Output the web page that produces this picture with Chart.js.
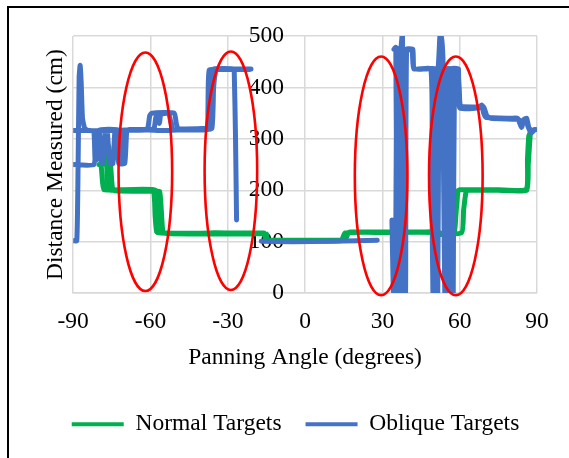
<!DOCTYPE html>
<html>
<head>
<meta charset="utf-8">
<script src="https://cdn.jsdelivr.net/npm/chart.js@4.4.1/dist/chart.umd.min.js"></script>
<style>
  html, body { margin: 0; padding: 0; background: #fff; overflow: hidden; }
  #frame { position: absolute; left: 7px; top: 6px; width: 640px; height: 520px; border: 2px solid #000; }
  #chart { position: absolute; left: 0; top: 0; }
</style>
</head>
<body>
<div id="frame"></div>
<canvas id="chart" width="569" height="458"></canvas>
<script>
// tick values
const angleTicks = [-90, -60, -30, 0, 30, 60, 90];
const distanceTicks = [0, 100, 200, 300, 400, 500];

// normal targets, several sweeps split by null
const normalAngles = [
  -80, -79.2, -78.6, -78, -70, -62, -58.8, -58.2, -57.6, -56, -45, -35, -25, -16, -15.2, 0, 15.5, 16.8, 17.5, 30, 45, 51.5, 53, 57.8, 58.5, 59.3, 60, 75, 85.8, 86.3, 86.8, 87.3,
  null,
  -79, -77.5, -76.8, -76.2, -75.5, -74.8, -74, -60, -56.5, -55.8, -55.2, -54, -40, -20, -15, -14.5, 0, 14, 15.5, 30, 50.5, 52, 60.8, 61.5, 62.5, 63.5, 75, 86, 86.6, 87.5,
  null,
  -77, -76.5, -75.5, -58, -57, -56, -30, -16
];
const normalDistances = [
  250, 249, 215, 201, 201, 200, 199, 150, 119, 117, 116, 117, 116, 116, 104, 103, 104, 118, 119, 119, 119, 119, 116, 117, 150, 199, 201, 201, 202, 260, 305, 312,
  null,
  252, 251, 280, 285, 250, 205, 199, 198, 198, 160, 119, 116, 115, 115, 115, 102, 102, 102, 117, 118, 118, 114, 118, 160, 198, 200, 200, 200, 250, 318,
  null,
  248, 205, 200, 200, 140, 118, 117, 117
];

// oblique targets, several sweeps split by null
const obliqueAngles = [
  -90, -88.6, -88.1, -87.7, -87.3, -86.9, -86.4, -85.5, -84, -75, -70, -62, -61, -60.3, -59.5, -50.8, -50, -49.3, -40, -37.6, -37, -36.4, -35.5, -28, -27.5, -27, -26.6,
  null,
  -90, -82, -81.2, -80.6, -79.8, -79, -78.3, -77.5, -76.8, -75.8, -74.6, -73.8, -73, -72.3, -70, -69.2, -68, -60, -58.6, -58, -57.4, -56.5, -56, -53, -52, -51.3, -40, -36.2, -35.5, -34.5, -33.5, -21,
  null,
  -90, -84, -82, -81.5, -80.8, -80.2, -72, -71, -70.4, -69.6, -55, -45, -38.2, -37.7, -37.2, -33, -23, -21.5,
  null,
  -17, -5, 10, 20, 28,
  null,
  33.7, 34, 34.3, 35, 35.4, 35.8, 36.5, 37, 38.5, 39.2, 41.5, 42.2, 48.8, 49.2, 49.6, 50, 50.5, 51.6, 52.4, 53.3, 53.8, 54.2, 54.8, 55.5, 56.2, 56.8, 59.2, 59.8, 60.4, 66, 67.5, 68.5, 69.5, 70.5, 72, 82, 83.5, 84.8, 85.8, 86.5, 87.5, 89.5,
  null,
  34.5, 35.2, 35.8, 36.6, 37.2, 37.8, 38.4, 39, 39.4, 41.8, 42.3, 47, 50.2, 50.8, 51.5, 52, 53, 53.6, 54.6, 55.2, 57, 57.5, 58, 59.5, 60, 67, 68.6, 69.3, 70, 80, 82.5, 84, 85, 86, 87, 88, 89
];
const obliqueDistances = [
  102, 102, 250, 420, 443, 410, 340, 320, 316, 316, 317, 317, 322, 345, 350, 350, 330, 320, 320, 322, 380, 430, 436, 436, 430, 300, 142,
  null,
  250, 250, 300, 316, 316, 252, 255, 316, 316, 252, 252, 316, 300, 252, 252, 316, 318, 318, 320, 340, 348, 330, 348, 349, 330, 318, 318, 320, 400, 436, 436, 436,
  null,
  316, 316, 315, 258, 260, 316, 316, 258, 258, 316, 316, 318, 318, 360, 434, 435, 435, 435,
  null,
  101, 100, 101, 102, 103,
  null,
  142, 60, 2, 2, 300, 474, 476, 474, 472, 474, 472, 436, 436, 200, 2, 2, 436, 436, 505, 436, 200, 2, 436, 436, 2, 436, 436, 400, 364, 362, 362, 366, 360, 345, 340, 338, 336, 330, 338, 324, 316, 318,
  null,
  474, 478, 2, 2, 474, 505, 2, 2, 474, 474, 436, 436, 436, 2, 2, 436, 505, 436, 2, 436, 436, 2, 436, 436, 360, 360, 362, 350, 342, 340, 340, 322, 338, 340, 318, 312, 318
];

// red rings around the transition zones (data units)
const highlights = [
  { angle: -62, dist: 236, halfWidth: 10.4, halfHeight: 232 },
  { angle: -28.8, dist: 238, halfWidth: 10.2, halfHeight: 232 },
  { angle: 29.5, dist: 228, halfWidth: 10.2, halfHeight: 232 },
  { angle: 58.5, dist: 228, halfWidth: 10.4, halfHeight: 232 }
];

Chart.defaults.font.family = "'Liberation Serif', 'Times New Roman', serif";
Chart.defaults.font.size = 23.5;
Chart.defaults.color = '#000';

const toPoints = (xs, ys) => xs.map((x, i) => ({ x: x, y: ys[i] }));

const ringPlugin = {
  id: 'rings',
  afterDatasetsDraw(chart) {
    const { ctx, scales: { x, y } } = chart;
    ctx.save();
    ctx.strokeStyle = '#ff0000';
    ctx.lineWidth = 2.6;
    highlights.forEach(h => {
      const cx = x.getPixelForValue(h.angle);
      const cy = y.getPixelForValue(h.dist);
      const rx = x.getPixelForValue(h.angle + h.halfWidth) - cx;
      const ry = cy - y.getPixelForValue(h.dist + h.halfHeight);
      ctx.beginPath();
      ctx.ellipse(cx, cy, rx, ry, 0, 0, Math.PI * 2);
      ctx.stroke();
    });
    ctx.restore();
  }
};

const gridColor = '#d9d9d9';

new Chart(document.getElementById('chart'), {
  type: 'line',
  data: {
    datasets: [{
      label: 'Normal Targets',
      data: toPoints(normalAngles, normalDistances),
      borderColor: '#00b050',
      backgroundColor: '#00b050',
      order: 1
    }, {
      label: 'Oblique Targets',
      data: toPoints(obliqueAngles, obliqueDistances),
      borderColor: '#4472c4',
      backgroundColor: '#4472c4',
      order: 0
    }]
  },
  options: {
    responsive: false,
    animation: false,
    spanGaps: false,
    layout: { padding: { left: 42, right: 20, top: 36, bottom: 12 } },
    elements: {
      point: { radius: 0 },
      line: { tension: 0.15, borderWidth: 5, borderCapStyle: 'round', borderJoinStyle: 'round' }
    },
    scales: {
      x: {
        type: 'linear',
        min: -90,
        max: 90,
        afterBuildTicks: s => { s.ticks = angleTicks.map(v => ({ value: v })); },
        afterFit: s => { s.paddingRight = 32; },
        ticks: { padding: 15, maxRotation: 0 },
        grid: { color: gridColor, lineWidth: 1.5, drawTicks: false },
        border: { color: gridColor, width: 1.5 },
        title: { display: true, text: 'Panning Angle (degrees)', padding: { top: -8, bottom: 17 } }
      },
      y: {
        type: 'linear',
        min: 0,
        max: 500,
        // labels sit a little left of the zero line (drawn by the x grid)
        position: { x: -8.2 },
        afterBuildTicks: s => { s.ticks = distanceTicks.map(v => ({ value: v })); },
        grid: { color: gridColor, lineWidth: 1.5, drawTicks: false },
        border: { display: false }
      },
      yTitle: {
        type: 'linear',
        position: 'left',
        min: 0,
        max: 500,
        ticks: { display: false },
        grid: { display: false, drawTicks: false },
        border: { display: false },
        title: { display: true, text: 'Distance Measured (cm)', padding: { top: 0, bottom: 3 } }
      }
    },
    plugins: {
      legend: {
        position: 'bottom',
        labels: {
          boxWidth: 52,
          boxHeight: 4,
          padding: 24,
          sort: (a, b) => a.datasetIndex - b.datasetIndex,
          generateLabels: chart => Chart.defaults.plugins.legend.labels.generateLabels(chart)
            .map(item => Object.assign(item, { fillStyle: item.strokeStyle, lineWidth: 0 }))
        }
      },
      tooltip: { enabled: false }
    }
  },
  plugins: [ringPlugin]
});
</script>
</body>
</html>
